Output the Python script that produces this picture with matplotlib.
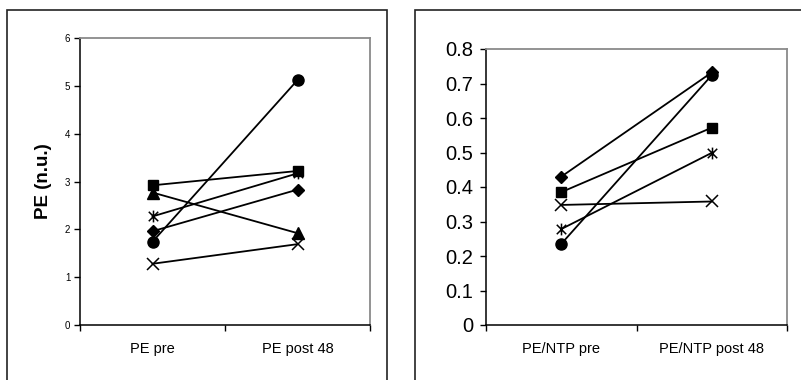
import matplotlib
matplotlib.use("Agg")
import matplotlib.pyplot as plt
from matplotlib.patches import Rectangle
from matplotlib.path import Path
import numpy as np

plt.rcParams['font.family'] = ['Liberation Sans', 'DejaVu Sans']

# ---- data ----
left_categories = ["PE pre", "PE post 48"]
left_circle = [1.74, 5.12]
left_square = [2.92, 3.22]
left_triangle = [2.77, 1.92]
left_asterisk = [2.27, 3.17]
left_diamond = [1.96, 2.83]
left_x = [1.28, 1.69]
left_yticks = [0, 1, 2, 3, 4, 5, 6]

right_categories = ["PE/NTP pre", "PE/NTP post 48"]
right_diamond = [0.430, 0.732]
right_circle = [0.235, 0.724]
right_square = [0.385, 0.572]
right_asterisk = [0.278, 0.499]
right_x = [0.348, 0.358]
right_yticks = [0, 0.1, 0.2, 0.3, 0.4, 0.5, 0.6, 0.7, 0.8]
right_yticklabels = ["0", "0.1", "0.2", "0.3", "0.4", "0.5", "0.6", "0.7", "0.8"]

W, H = 801, 380
fig = plt.figure(figsize=(W / 100, H / 100), dpi=100)

def px_axes(l, r, t, b):
    return fig.add_axes([l / W, (H - b) / H, (r - l) / W, (b - t) / H])

star = Path([(0, -1), (0, 1), (-0.8, -0.8), (0.8, 0.8), (-0.8, 0.8), (0.8, -0.8)],
            [Path.MOVETO, Path.LINETO, Path.MOVETO, Path.LINETO, Path.MOVETO, Path.LINETO])

def style_axes(ax, cats, ylab_size, ypad):
    ax.set_xlim(-0.5, 1.5)
    ax.set_xticks([-0.5, 0.5, 1.5])
    ax.set_xticklabels([])
    ax.set_xticks([0, 1], minor=True)
    ax.set_xticklabels(cats, minor=True, fontsize=10.5)
    ax.tick_params(axis='x', which='major', direction='out', length=4, width=1, colors='black')
    ax.tick_params(axis='x', which='minor', length=0, pad=12)
    ax.tick_params(axis='y', direction='out', length=4, width=1, labelsize=ylab_size, pad=ypad)
    for s in ['left', 'bottom']:
        ax.spines[s].set_color('black')
        ax.spines[s].set_linewidth(1.1)
    for s in ['top', 'right']:
        ax.spines[s].set_color('#8a8a8a')
        ax.spines[s].set_linewidth(1.3)

def plot_series(ax, y, marker, ms, mew=1.0):
    ax.plot([0, 1], y, color='black', lw=1.3, marker=marker, ms=ms,
            mfc='black', mec='black', mew=mew, clip_on=False, zorder=3)

# ---- left panel ----
axL = px_axes(80, 370, 38, 325)
plot_series(axL, left_x, 'x', 9, 1.1)
plot_series(axL, left_diamond, 'D', 6)
plot_series(axL, left_asterisk, star, 8.5, 1.1)
plot_series(axL, left_triangle, '^', 8)
plot_series(axL, left_square, 's', 7)
plot_series(axL, left_circle, 'o', 8)
axL.set_ylim(0, 6)
axL.set_yticks(left_yticks)
style_axes(axL, left_categories, 7, 3)
axL.set_ylabel("PE (n.u.)", fontsize=13.5, fontweight='bold', labelpad=9)

# ---- right panel ----
axR = px_axes(486, 787, 49, 325)
plot_series(axR, right_x, 'x', 9, 1.1)
plot_series(axR, right_asterisk, star, 8.5, 1.1)
plot_series(axR, right_square, 's', 7)
plot_series(axR, right_circle, 'o', 8)
plot_series(axR, right_diamond, 'D', 6)
axR.set_ylim(0, 0.8)
axR.set_yticks(right_yticks)
axR.set_yticklabels(right_yticklabels)
style_axes(axR, right_categories, 14.5, 5)

# ---- outer frames ----
fig.patches.append(Rectangle((7 / W, -0.2), 380 / W, (H - 10) / H + 0.2,
                             transform=fig.transFigure, fill=False,
                             edgecolor='#222222', lw=1.2))
fig.patches.append(Rectangle((415 / W, -0.2), 420 / W, (H - 10) / H + 0.2,
                             transform=fig.transFigure, fill=False,
                             edgecolor='#222222', lw=1.2))

fig.savefig("out.png", dpi=100)
